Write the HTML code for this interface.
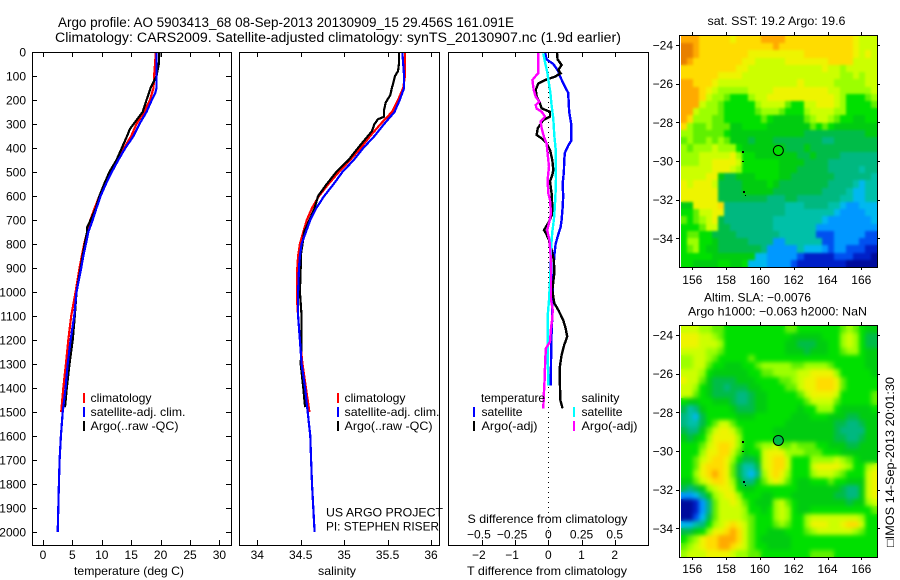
<!DOCTYPE html>
<html>
<head>
<meta charset="utf-8">
<title>Argo profile</title>
<style>
html,body{margin:0;padding:0;background:#fff;}
svg{display:block;}
text{font-family:"Liberation Sans","DejaVu Sans",sans-serif;font-size:12px;fill:#000;}
.t14{font-size:13.5px;}
.mark{fill:none;shape-rendering:crispEdges;}
.ax{stroke:#000;stroke-width:1;fill:none;shape-rendering:crispEdges;}
</style>
</head>
<body>
<svg id="fig" width="900" height="580" viewBox="0 0 900 580" xmlns="http://www.w3.org/2000/svg">
  <defs>
    <filter id="soft-sst" x="-5%" y="-5%" width="110%" height="110%" color-interpolation-filters="sRGB">
      <feGaussianBlur in="SourceGraphic" stdDeviation="1.4" result="b"/>
      <feMerge><feMergeNode in="SourceGraphic"/><feMergeNode in="b"/></feMerge>
    </filter>
    <filter id="soft-sla" x="-5%" y="-5%" width="110%" height="110%" color-interpolation-filters="sRGB">
      <feGaussianBlur in="SourceGraphic" stdDeviation="2.2" result="b"/>
      <feMerge><feMergeNode in="SourceGraphic"/><feMergeNode in="b"/></feMerge>
    </filter>
    <clipPath id="clip-sst"><rect x="681" y="36" width="196" height="231"/></clipPath>
    <clipPath id="clip-sla"><rect x="681" y="326" width="196" height="231"/></clipPath>
  </defs>
  <rect width="900" height="580" fill="#fff"/>
  <text class="t14" x="58" y="27" textLength="456" lengthAdjust="spacingAndGlyphs">Argo profile: AO 5903413_68 08-Sep-2013 20130909_15 29.456S 161.091E</text>
  <text class="t14" x="55" y="42" textLength="566" lengthAdjust="spacingAndGlyphs">Climatology: CARS2009. Satellite-adjusted climatology: synTS_20130907.nc (1.9d earlier)</text>

  <g id="maps"></g>
  <g id="panels"></g>

  <!-- temperature legend -->
  <rect x="83" y="393" width="2" height="10" fill="#f00"/>
  <rect x="83" y="407" width="2" height="10" fill="#00f"/>
  <rect x="83" y="421" width="2" height="10" fill="#000"/>
  <text x="90.5" y="402" textLength="61" lengthAdjust="spacingAndGlyphs">climatology</text>
  <text x="90.5" y="416" textLength="95" lengthAdjust="spacingAndGlyphs">satellite-adj. clim.</text>
  <text x="90.5" y="430" textLength="88" lengthAdjust="spacingAndGlyphs">Argo(..raw -QC)</text>
  <text x="74" y="575" textLength="110" lengthAdjust="spacingAndGlyphs">temperature (deg C)</text>

  <!-- salinity legend -->
  <rect x="337" y="393" width="2" height="10" fill="#f00"/>
  <rect x="337" y="407" width="2" height="10" fill="#00f"/>
  <rect x="337" y="421" width="2" height="10" fill="#000"/>
  <text x="344.5" y="402" textLength="61" lengthAdjust="spacingAndGlyphs">climatology</text>
  <text x="344.5" y="416" textLength="95" lengthAdjust="spacingAndGlyphs">satellite-adj. clim.</text>
  <text x="344.5" y="430" textLength="88" lengthAdjust="spacingAndGlyphs">Argo(..raw -QC)</text>
  <text x="326" y="516.5" textLength="117" lengthAdjust="spacingAndGlyphs">US ARGO PROJECT</text>
  <text x="326" y="530.5" textLength="113" lengthAdjust="spacingAndGlyphs">PI: STEPHEN RISER</text>
  <text x="318" y="575" textLength="38" lengthAdjust="spacingAndGlyphs">salinity</text>

  <!-- difference legend -->
  <text x="481" y="402" textLength="64" lengthAdjust="spacingAndGlyphs">temperature</text>
  <rect x="473" y="407" width="2" height="10" fill="#00f"/>
  <rect x="473" y="421" width="2" height="10" fill="#000"/>
  <text x="481.5" y="416" textLength="41" lengthAdjust="spacingAndGlyphs">satellite</text>
  <text x="481.5" y="430" textLength="56" lengthAdjust="spacingAndGlyphs">Argo(-adj)</text>
  <text x="581.5" y="402" textLength="38" lengthAdjust="spacingAndGlyphs">salinity</text>
  <rect x="573" y="407" width="2" height="10" fill="#0ff"/>
  <rect x="573" y="421" width="2" height="10" fill="#f0f"/>
  <text x="581.5" y="416" textLength="41" lengthAdjust="spacingAndGlyphs">satellite</text>
  <text x="581.5" y="430" textLength="56" lengthAdjust="spacingAndGlyphs">Argo(-adj)</text>
  <text x="467.5" y="523" textLength="160" lengthAdjust="spacingAndGlyphs">S difference from climatology</text>
  <text x="467" y="575" textLength="160" lengthAdjust="spacingAndGlyphs">T difference from climatology</text>

  <!-- map titles -->
  <text x="707.5" y="25" textLength="138" lengthAdjust="spacingAndGlyphs">sat. SST: 19.2 Argo: 19.6</text>
  <text x="704" y="301.5" textLength="107" lengthAdjust="spacingAndGlyphs">Altim. SLA: −0.0076</text>
  <text x="688" y="315.5" textLength="179" lengthAdjust="spacingAndGlyphs">Argo h1000: −0.063 h2000: NaN</text>
  <text transform="translate(894,547) rotate(-90)" x="0" y="0" textLength="170" lengthAdjust="spacingAndGlyphs">□IMOS 14-Sep-2013 20:01:30</text>
</svg>

<script>
// ---------- profile data ----------
const tempClimDepth = [0,100,150,200,250,300,350,400,450,500,550,600,650,700,750,800,850,900,1000,1100,1200,1300,1400,1500];
const tempClim = [19.2,18.9,18.8,18.2,17.2,15.9,15,13.8,12.6,11.4,10.4,9.6,8.8,8.05,7.5,7,6.6,6.2,5.55,4.8,4.3,3.9,3.45,3.1];

const tempSatDepth = [0,100,150,170,200,250,300,350,400,450,500,550,600,650,700,750,800,850,900,1000,1100,1200,1300,1400,1500,1600,1700,1800,1900,2000];
const tempSat = [19.3,19.3,19.3,19.1,18.5,17.6,16.4,15.4,14,12.8,11.7,10.7,9.8,9.1,8.45,7.7,7.3,6.85,6.5,5.7,5.3,4.7,4.2,3.85,3.35,3.05,2.83,2.7,2.6,2.5];

const tempArgoDepth = [0,50,100,120,150,200,250,300,320,350,400,450,500,550,600,650,700,730,750,800,900,1000,1100,1200,1300,1400,1480];
const tempArgo = [19.8,19.7,19.3,18.9,18.3,17.6,16.95,15.4,14.8,14.3,13.4,12.5,11.3,10.4,9.6,9,8.1,7.5,7.5,7.1,6.4,5.7,5.4,5.05,4.5,4.05,3.75];

const salClimDepth = [0,100,150,200,250,300,350,400,450,500,550,600,650,700,750,800,850,900,1000,1050,1100,1200,1300,1400,1450,1500];
const salClim = [35.7,35.7,35.68,35.62,35.55,35.42,35.3,35.19,35.07,34.94,34.82,34.71,34.63,34.57,34.53,34.49,34.47,34.46,34.46,34.46,34.47,34.49,34.52,34.56,34.58,34.6];

const salSatDepth = [0,100,150,200,250,300,350,400,450,500,550,600,650,700,750,800,850,900,1000,1100,1200,1300,1400,1500,1600,1700,1800,1900,2000];
const salSat = [35.67,35.69,35.69,35.64,35.58,35.46,35.35,35.22,35.11,34.98,34.88,34.77,34.68,34.61,34.56,34.51,34.49,34.48,34.47,34.47,34.49,34.51,34.55,34.58,34.61,34.62,34.63,34.645,34.66];

const salArgoDepth = [0,50,80,100,130,150,180,210,240,270,280,300,330,360,400,450,500,550,600,650,700,750,800,850,900,1000,1100,1200,1300,1400,1480];
const salArgo = [35.63,35.63,35.62,35.585,35.565,35.55,35.53,35.48,35.46,35.46,35.39,35.35,35.32,35.25,35.16,35.05,34.91,34.8,34.7,34.66,34.6,34.54,34.52,34.5,34.5,34.49,34.51,34.51,34.5,34.53,34.55];

const diffTSatDepth = [0,31,50,80,100,130,150,170,250,300,350,370,390,420,450,500,550,600,650,700,730,760,800,850,900,950,1000,1050,1100,1200,1300,1390];
const diffTSat = [-0.1,-0.05,0.15,0.3,0.35,0.45,0.52,0.6,0.63,0.69,0.69,0.69,0.6,0.5,0.48,0.47,0.43,0.45,0.43,0.4,0.37,0.3,0.22,0.18,0.16,0.15,0.13,0.12,0.12,0.09,0.08,0.07];

const diffTArgoDepth = [0,31,54,75,89,103,117,131,158,186,214,235,249,269,283,318,346,360,381,408,450,492,512,540,589,644,672,707,742,756,783,825,867,922,992,1047,1075,1117,1151,1186,1221,1262,1311,1380,1450,1485];
const diffTArgo = [0.26,0.28,0.4,0.3,0.37,0.2,-0.1,-0.3,-0.38,-0.35,-0.25,-0.2,0.05,0.05,-0.15,-0.32,-0.35,-0.2,-0.05,0.05,0.12,0.15,0.12,0.05,0.1,0.12,0.13,0.02,-0.13,-0.07,0.02,0.1,0.17,0.18,0.12,0.18,0.3,0.45,0.52,0.57,0.48,0.4,0.35,0.35,0.36,0.43];

const diffSSatDepth = [6,42,83,125,167,222,278,347,403,472,528,583,639,694,750,819,889,958,1033,1103,1214,1311,1390];
const diffSSat = [-0.038,-0.025,-0.008,0.003,0.015,0.025,0.038,0.045,0.055,0.055,0.058,0.055,0.05,0.043,0.03,0.02,0.015,0.013,0.005,-0.005,-0.005,-0.003,0];

const diffSArgoDepth = [0,61,89,100,117,158,186,207,221,236,249,269,290,318,353,381,422,478,533,589,617,672,707,742,783,853,922,992,1033,1075,1110,1151,1207,1235,1283,1367,1422,1485];
const diffSArgo = [-0.075,-0.075,-0.075,-0.095,-0.12,-0.11,-0.095,-0.068,-0.095,-0.088,-0.05,-0.025,-0.058,-0.05,-0.033,-0.013,-0.005,0.005,-0.005,0,0.013,0.02,0.008,-0.008,0.008,0.018,0.02,0.02,0.02,0.033,0.03,0.02,0.013,-0.018,-0.023,-0.028,-0.033,-0.038];

// ---------- tick labels ----------
const depthTicks = [0,100,200,300,400,500,600,700,800,900,1000,1100,1200,1300,1400,1500,1600,1700,1800,1900,2000];
const tempTicks = [0,5,10,15,20,25,30];
const salTicks = [34,34.5,35,35.5,36];
const diffTTicks = [-2,-1,0,1,2];
const diffSTicks = [-0.5,-0.25,0,0.25,0.5];
const lonTicks = [156,158,160,162,164,166];
const latTicks = [-24,-26,-28,-30,-32,-34];

// ---------- heatmap data (colour levels, north to south) ----------
const mapLevelColors = ['#000c9c','#0020c8','#0050f0','#0098ff','#00b8f0','#00c0a8','#00b880','#00bc48','#00cc10','#00e000','#60f000','#9cff00','#ccff00','#eef400','#ffdc00','#ffaa00','#e88000'];

const sstGrid = [
[15,15,15,14,14,14,14,14,13,14,14,14,14,15,15,15,15,14,14,14,14,14,14,14,14,14,14,14,13,12,12,12],
[16,16,15,14,14,14,14,14,14,14,14,14,14,14,14,15,14,14,14,14,14,14,14,14,14,14,14,14,13,12,12,12],
[16,16,15,14,14,14,14,14,14,14,14,13,13,13,13,13,13,13,13,13,14,14,14,14,14,14,14,14,13,12,13,12],
[16,15,14,14,14,14,14,14,14,14,13,13,12,12,12,12,12,13,13,13,13,13,13,13,14,14,14,14,12,12,12,12],
[14,14,14,14,14,14,14,14,14,13,13,12,12,12,12,12,12,12,12,12,12,12,12,13,12,12,11,12,12,12,12,12],
[14,14,14,14,14,14,13,13,13,13,12,12,12,12,12,12,12,12,12,12,12,12,12,12,12,12,11,11,12,11,12,12],
[15,15,14,14,14,13,12,12,12,12,12,12,12,12,12,12,12,12,12,13,12,12,12,12,12,11,11,11,11,11,12,12],
[15,15,15,14,13,12,11,11,11,11,11,12,12,12,12,13,13,13,13,13,13,13,13,13,12,12,11,11,11,11,11,12],
[15,15,15,14,12,11,11,10,9,9,9,11,12,12,13,13,13,13,13,13,13,13,13,13,13,12,11,9,9,9,10,11],
[15,15,15,12,11,11,10,9,9,9,9,9,11,12,12,12,12,10,9,9,12,12,13,13,13,12,11,9,9,9,9,10],
[15,15,12,11,11,11,10,9,9,9,9,9,10,11,11,11,10,9,9,9,11,12,12,12,12,11,11,9,9,9,9,9],
[15,14,11,11,11,10,10,9,9,9,9,9,9,10,9,8,8,8,8,8,10,11,12,12,11,10,9,9,8,8,9,9],
[14,11,10,10,11,10,10,10,8,8,9,9,9,9,8,8,8,8,8,8,8,10,9,10,9,8,8,8,8,8,8,8],
[11,11,10,10,10,10,10,9,8,8,8,8,8,8,8,8,8,8,8,8,7,7,7,7,7,7,7,7,7,7,8,8],
[10,11,10,10,11,10,11,10,8,8,8,7,8,8,8,7,7,7,7,7,7,7,7,6,6,7,7,7,7,7,7,7],
[11,10,11,11,11,12,11,11,11,9,8,8,8,8,8,8,8,7,7,7,8,7,7,7,7,7,7,7,7,7,7,7],
[11,11,11,12,12,12,12,12,13,11,9,9,8,8,8,8,8,8,8,7,7,8,7,7,7,7,6,6,6,6,6,6],
[11,11,11,12,12,13,13,13,13,12,9,9,9,9,9,9,8,8,8,8,7,7,7,7,6,6,6,6,6,6,6,6],
[12,12,12,12,12,13,13,13,12,11,9,9,9,9,9,9,8,8,8,7,7,7,7,7,6,6,6,6,6,5,6,6],
[12,12,12,12,13,13,8,7,7,8,8,8,9,9,9,9,8,8,7,7,7,7,7,7,7,6,6,6,6,6,6,5],
[13,12,13,13,13,12,7,7,7,7,8,8,8,8,9,8,7,7,7,7,7,7,7,7,6,6,6,6,5,4,5,5],
[13,13,13,13,13,13,7,7,7,7,8,8,8,8,8,7,7,7,7,7,7,7,7,6,6,6,6,5,4,4,5,5],
[13,13,13,13,13,13,7,7,7,7,7,7,7,7,6,6,6,7,7,6,6,6,6,6,6,6,5,5,4,4,5,5],
[8,8,13,13,13,13,14,6,6,6,6,6,6,6,6,6,6,5,5,5,6,6,6,6,5,5,4,3,3,4,4,4],
[9,9,10,12,12,13,13,6,6,6,6,6,6,6,6,6,6,5,5,5,5,5,5,5,5,4,3,3,3,3,4,4],
[10,9,10,11,12,13,7,6,6,6,6,6,6,6,6,5,5,5,5,5,5,5,5,4,3,3,3,3,3,3,3,4],
[9,9,9,10,12,12,7,7,6,6,6,6,6,6,6,5,5,5,5,5,5,5,3,3,3,3,3,3,3,3,3,3],
[9,10,10,9,9,7,7,7,7,6,6,6,6,6,6,6,5,5,5,5,5,5,2,2,2,3,3,3,3,3,2,2],
[9,11,11,9,9,8,7,7,7,7,7,6,6,6,6,3,3,5,5,5,5,5,5,2,2,3,3,3,3,2,2,2],
[9,10,11,9,8,8,7,7,7,7,7,7,7,6,3,3,3,3,3,5,4,4,4,3,2,3,3,2,2,2,1,1],
[9,9,9,9,9,8,8,8,8,8,8,8,4,4,3,3,3,3,3,2,1,1,1,1,1,2,2,2,1,1,1,0],
[9,9,8,8,8,8,9,9,8,8,9,4,4,4,3,3,3,3,2,1,1,1,1,1,1,1,1,0,0,0,0,0]
];

const slaGrid = [
[12,12,12,11,11,10,10,9,9,9,9,9,9,9,9,9,9,10,10,9,9,9,9,9,9,9,10,11,10,9,8,8],
[13,13,13,12,12,11,10,9,9,9,9,9,9,9,9,9,9,9,8,8,8,8,8,9,9,9,11,12,11,9,7,7],
[13,13,13,12,12,12,11,9,9,9,9,9,9,9,9,9,9,8,8,7,7,7,8,8,9,9,11,12,11,9,7,7],
[12,12,12,12,11,11,10,9,9,9,9,9,9,9,9,9,9,8,8,8,7,8,8,8,9,9,10,11,11,9,8,8],
[11,11,12,12,11,10,9,9,9,9,9,10,9,9,9,9,9,9,9,9,9,9,9,9,9,9,9,9,9,9,8,8],
[11,11,12,12,10,9,9,8,8,8,9,9,10,11,11,11,11,11,10,10,11,11,11,11,10,9,9,9,9,9,8,8],
[12,12,12,11,9,8,8,8,8,8,8,9,9,10,10,11,11,11,11,12,12,13,13,13,13,11,9,9,9,9,9,8],
[13,12,12,10,8,7,7,7,7,8,8,8,9,9,9,9,10,10,11,12,13,13,14,14,14,13,10,9,9,9,9,9],
[12,12,11,9,8,7,7,6,7,7,7,8,8,9,9,9,9,10,10,12,13,13,14,14,14,13,10,9,9,9,9,9],
[12,12,10,9,8,7,7,7,7,6,6,7,8,8,9,9,9,9,9,10,12,13,13,13,13,12,9,9,9,9,9,10],
[9,8,8,9,9,8,8,8,7,6,6,7,8,8,9,9,9,9,9,9,10,12,12,12,12,10,9,9,9,9,9,10],
[7,5,6,8,9,9,9,9,8,7,7,7,8,8,9,9,9,9,9,8,9,9,11,11,11,9,8,8,8,8,8,9],
[6,5,4,7,9,9,9,9,9,8,8,8,9,9,9,9,9,9,8,8,8,9,9,9,8,8,8,7,7,8,8,8],
[6,5,5,7,9,10,12,12,10,9,9,9,9,9,9,9,9,8,8,8,8,8,8,8,8,7,7,6,6,7,8,8],
[7,6,6,8,10,12,13,13,12,10,9,9,9,9,9,8,8,8,8,8,8,8,8,8,8,7,6,6,6,6,8,8],
[8,7,8,9,11,13,13,13,13,11,9,9,9,9,9,9,8,8,8,8,8,8,8,8,8,7,7,6,6,7,8,8],
[9,9,9,10,12,13,14,14,13,11,9,9,10,11,11,12,10,10,11,10,10,10,9,9,8,8,8,7,7,8,8,8],
[9,9,9,11,13,13,14,14,12,10,8,9,9,12,13,13,13,11,11,11,10,10,10,9,9,9,8,8,8,8,8,8],
[9,9,10,12,13,14,14,13,11,9,7,7,8,12,13,14,14,12,9,9,9,11,11,11,11,12,11,10,9,8,8,8],
[9,9,10,13,14,14,14,13,10,7,5,5,7,12,13,14,14,12,9,9,9,12,13,13,13,13,12,11,9,9,11,12],
[9,9,11,13,14,15,14,13,10,7,5,4,6,11,13,14,13,11,9,9,9,11,12,12,12,11,10,9,9,9,12,13],
[8,8,10,12,13,14,14,13,11,8,6,6,8,10,12,13,12,10,9,8,8,9,9,9,10,9,9,8,8,8,12,13],
[7,6,7,8,11,12,13,13,12,9,8,8,9,9,9,9,9,9,9,8,8,8,8,8,8,8,7,6,6,8,12,13],
[3,3,4,6,8,11,12,13,13,11,9,9,9,8,8,9,9,9,8,8,8,8,8,8,8,7,7,6,6,8,12,13],
[0,0,1,3,6,10,12,12,13,12,10,9,8,8,8,11,12,10,9,8,8,8,8,8,8,8,8,7,8,8,11,12],
[0,0,1,3,6,10,12,12,12,12,11,9,9,8,9,11,12,11,9,8,8,9,9,9,9,9,9,9,9,9,9,10],
[0,0,2,4,7,10,12,12,12,12,11,10,9,9,9,11,12,11,9,9,11,12,12,12,12,12,12,12,12,11,9,9],
[4,4,5,6,9,11,12,13,14,13,12,10,9,9,9,10,11,10,9,9,11,13,13,13,12,12,13,14,14,12,9,9],
[7,7,8,9,11,13,13,14,15,14,12,10,9,9,8,8,8,9,9,9,10,11,12,12,12,12,12,12,11,10,9,9],
[9,10,11,13,14,14,15,15,15,14,12,10,9,8,8,8,8,8,9,9,9,9,9,9,9,9,9,9,9,9,9,9],
[10,11,12,13,14,14,15,15,14,13,12,10,9,9,8,8,8,8,9,9,9,9,9,9,9,9,9,9,9,9,9,9],
[11,12,12,12,13,13,13,13,12,11,11,10,10,9,9,9,9,9,9,9,9,10,10,10,10,9,9,9,9,9,9,9]
];

// Argo float position and coastline specks
const argoLon = 161.091;
const argoLat = -29.456;
const sstArgoLevel = 9;
const slaArgoLevel = 7;
const reefLon = [159.0,159.0,159.03,159.2];
const reefLat = [-29.5,-30.0,-31.55,-31.77];

// ---------- drawing ----------
const NS = 'http://www.w3.org/2000/svg';
const panelsG = document.getElementById('panels');
const mapsG = document.getElementById('maps');
const plotTop = 52, plotBottom = 545;
const yDepth = d => 52 + 0.24 * d;
const xTemp = v => 43 + 5.88 * v;
const xSal = v => 257.3 + 86.85 * (v - 34);
const xDiffT = v => 548.3 + 33.2 * v;
const xDiffS = v => 548.3 + 132.8 * v;

function make(tag, parent, name) {
  const el = document.createElementNS(NS, tag);
  
  
  parent.appendChild(el);
  return el;
}
function axLine(parent, name, x1, y1, x2, y2) {
  const l = make('line', parent, name);
  l.setAttribute('x1', x1); l.setAttribute('y1', y1);
  l.setAttribute('x2', x2); l.setAttribute('y2', y2);
  l.setAttribute('class', 'ax');
  return l;
}
function label(parent, name, x, y, str, anchor) {
  const t = make('text', parent, name);
  t.setAttribute('x', x); t.setAttribute('y', y);
  t.setAttribute('text-anchor', anchor);
  t.textContent = str;
  return t;
}
function box(parent, name, x1, y1, x2, y2) {
  const r = make('rect', parent, name);
  r.setAttribute('x', x1); r.setAttribute('y', y1);
  r.setAttribute('width', x2 - x1); r.setAttribute('height', y2 - y1);
  r.setAttribute('class', 'ax');
}
function series(parent, name, xs, ds, vals, color, width) {
  const p = make('polyline', parent, name);
  p.setAttribute('points', vals.map((v, i) => xs(v).toFixed(1) + ',' + yDepth(ds[i]).toFixed(1)).join(' '));
  p.setAttribute('stroke', color);
  p.setAttribute('stroke-width', width);
  p.setAttribute('class', 'mark');
}
function fmt(v) { return (v < 0 ? '\u2212' + Math.abs(v) : String(v)); }

function xAxisTicks(parent, prefix, xs, ticks, labelY) {
  ticks.forEach(v => {
    const x = Math.round(xs(v)) + 0.5;
    axLine(parent, prefix + '-tick-top', x, plotTop, x, plotTop + 5);
    axLine(parent, prefix + '-tick-bottom', x, plotBottom, x, plotBottom - 5);
    if (labelY) label(parent, prefix + '-tick-label', xs(v) - (v < 0 ? 3 : 0), labelY, fmt(v), 'middle');
  });
}

// Temperature panel
const g1 = make('g', panelsG, 'temperature-panel');
series(g1, 'temperature-climatology-line', xTemp, tempClimDepth, tempClim, '#f00', 2.2);
series(g1, 'temperature-argo-line', xTemp, tempArgoDepth, tempArgo, '#000', 2.2);
series(g1, 'temperature-satellite-line', xTemp, tempSatDepth, tempSat, '#00f', 2.2);
box(g1, 'temperature-plot-frame', 32.5, plotTop + 0.5, 231.5, plotBottom + 0.5);
xAxisTicks(g1, 'temperature', xTemp, tempTicks, 559);
depthTicks.forEach(d => {
  const y = Math.round(yDepth(d)) + 0.5;
  axLine(g1, 'depth-tick-left', 32, y, 37, y);
  axLine(g1, 'depth-tick-right', 231, y, 226, y);
  label(g1, 'depth-tick-label', 26, yDepth(d) + 4.5, String(d), 'end');
});

// Salinity panel
const g2 = make('g', panelsG, 'salinity-panel');
series(g2, 'salinity-climatology-line', xSal, salClimDepth, salClim, '#f00', 2.2);
series(g2, 'salinity-argo-line', xSal, salArgoDepth, salArgo, '#000', 2.2);
series(g2, 'salinity-satellite-line', xSal, salSatDepth, salSat, '#00f', 2.2);
box(g2, 'salinity-plot-frame', 239.5, plotTop + 0.5, 439.5, plotBottom + 0.5);
xAxisTicks(g2, 'salinity', xSal, salTicks, 559);

// Difference panel
const g3 = make('g', panelsG, 'difference-panel');
const zero = axLine(g3, 'zero-difference-line', 548.5, plotTop, 548.5, plotBottom);
zero.setAttribute('stroke-dasharray', '1 4');
series(g3, 'difference-t-satellite-line', xDiffT, diffTSatDepth, diffTSat, '#00f', 2.4);
series(g3, 'difference-t-argo-line', xDiffT, diffTArgoDepth, diffTArgo, '#000', 2.4);
series(g3, 'difference-s-satellite-line', xDiffS, diffSSatDepth, diffSSat, '#0ff', 2.4);
series(g3, 'difference-s-argo-line', xDiffS, diffSArgoDepth, diffSArgo, '#f0f', 2.4);
box(g3, 'difference-plot-frame', 448.5, plotTop + 0.5, 648.5, plotBottom + 0.5);
xAxisTicks(g3, 'difference-t', xDiffT, diffTTicks, 559);
diffSTicks.forEach(v => {
  label(g3, 'difference-s-tick-label', xDiffS(v) - (v < 0 ? 3 : 0), 538.5, fmt(v), 'middle');
});

// Maps
const mapX0 = 681, mapX1 = 877;
const lonX = lon => 692.3 + 16.9 * (lon - 156);
function drawMap(name, grid, top, boxTop, boxBottom, imgBottom, lat24Y, argoLevel, labelY, filterId, clipId) {
  const g = make('g', mapsG, name);
  const cells = make('g', g, name + '-cells');
  cells.setAttribute('filter', 'url(#' + filterId + ')');
  cells.setAttribute('clip-path', 'url(#' + clipId + ')');
  const rows = grid.length, cols = grid[0].length;
  const latY = lat => lat24Y + 19.33 * (-24 - lat);
  grid.forEach((row, r) => {
    row.forEach((lvl, c) => {
      const x0 = Math.round(mapX0 + (mapX1 - mapX0) * c / cols);
      const x1 = Math.round(mapX0 + (mapX1 - mapX0) * (c + 1) / cols);
      const y0 = Math.round(top + (imgBottom - top) * r / rows);
      const y1 = Math.round(top + (imgBottom - top) * (r + 1) / rows);
      const cell = make('rect', cells, name + '-cell');
      cell.setAttribute('x', x0); cell.setAttribute('y', y0);
      cell.setAttribute('width', x1 - x0); cell.setAttribute('height', y1 - y0);
      cell.setAttribute('fill', mapLevelColors[lvl]);
      cell.setAttribute('shape-rendering', 'crispEdges');
    });
  });
  box(g, name + '-frame', 679.5, boxTop + 0.5, 877.5, boxBottom + 0.5);
  lonTicks.forEach(lon => {
    const x = Math.round(lonX(lon)) + 0.5;
    axLine(g, name + '-lon-tick-top', x, boxTop - 3, x, boxTop);
    axLine(g, name + '-lon-tick-bottom', x, boxBottom, x, boxBottom + 3);
    label(g, name + '-lon-label', lonX(lon), labelY, String(lon), 'middle');
  });
  latTicks.forEach(lat => {
    const y = Math.round(latY(lat)) + 0.5;
    axLine(g, name + '-lat-tick-left', 676, y, 679, y);
    axLine(g, name + '-lat-tick-right', 877, y, 880, y);
    label(g, name + '-lat-label', 673, latY(lat) + 4.5, fmt(lat), 'end');
  });
  reefLon.forEach((lon, i) => {
    const s = make('rect', g, name + '-reef-speck');
    s.setAttribute('x', Math.round(lonX(lon)) - 1);
    s.setAttribute('y', Math.round(latY(reefLat[i])));
    s.setAttribute('width', i === 3 ? 1 : 2);
    s.setAttribute('height', i === 1 || i === 3 ? 1 : 2);
    s.setAttribute('fill', '#000');
  });
  const ring = make('circle', g, name + '-argo-marker');
  ring.setAttribute('cx', lonX(argoLon));
  ring.setAttribute('cy', latY(argoLat));
  ring.setAttribute('r', 5);
  ring.setAttribute('fill', mapLevelColors[argoLevel]);
  ring.setAttribute('stroke', '#000');
  ring.setAttribute('stroke-width', 1);
}
drawMap('sst-map', sstGrid, 36, 35, 267, 267, 45, sstArgoLevel, 284, 'soft-sst', 'clip-sst');
drawMap('sla-map', slaGrid, 326, 325, 557, 557, 335, slaArgoLevel, 573, 'soft-sla', 'clip-sla');
</script>
</body>
</html>
